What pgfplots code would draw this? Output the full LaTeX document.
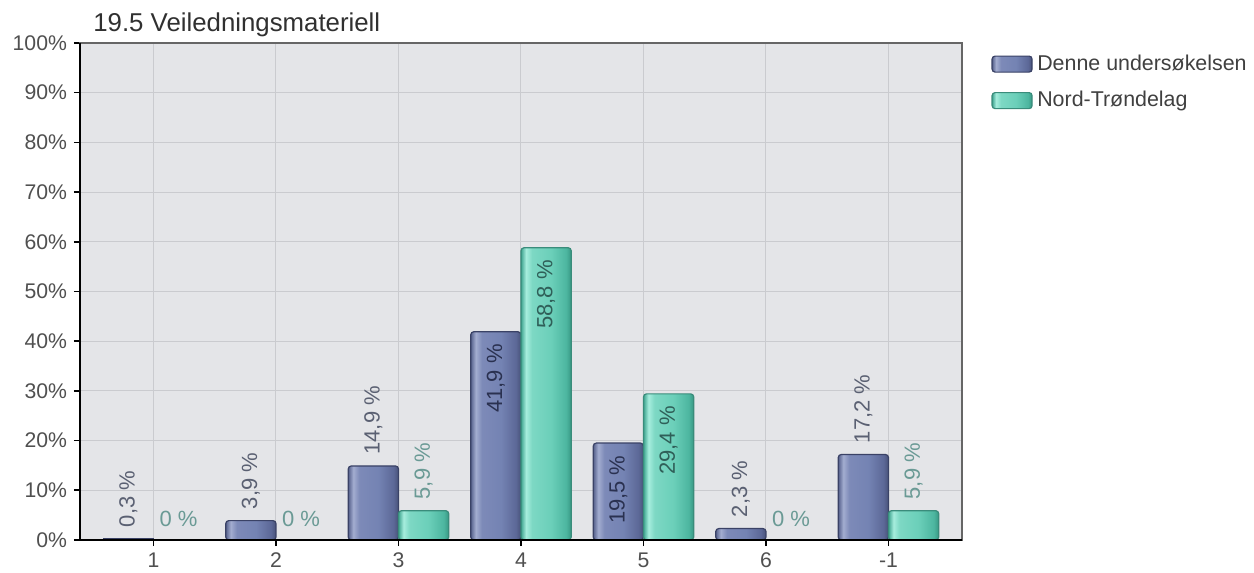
\documentclass[border=0pt]{standalone}
\usepackage{pgfplots}
\pgfplotsset{compat=1.18}
\usepackage{fontspec}
\setmainfont{Liberation Sans}
\definecolor{bgc}{HTML}{E4E5E8}
\definecolor{gridc}{HTML}{CACBCF}
\definecolor{tickc}{HTML}{505050}
\definecolor{titlec}{HTML}{303030}
\definecolor{legc}{HTML}{404040}
\definecolor{dennedraw}{HTML}{3A4266}
\definecolor{norddraw}{HTML}{3A8C7B}
\definecolor{dlabout}{HTML}{5A6072}
\definecolor{dlabin}{HTML}{2A3150}
\definecolor{nlabout}{HTML}{6A9A95}
\definecolor{nlabin}{HTML}{2F5F58}
\definecolor{d1}{HTML}{56618C}
\definecolor{d2}{HTML}{A3ADD0}
\definecolor{d3}{HTML}{7D8AB8}
\definecolor{d4}{HTML}{7483B3}
\definecolor{d5}{HTML}{5C6897}
\definecolor{d6}{HTML}{48527A}
\definecolor{n1}{HTML}{3FA590}
\definecolor{n2}{HTML}{A6EDDD}
\definecolor{n3}{HTML}{7DD8C4}
\definecolor{n4}{HTML}{6BCFB9}
\definecolor{n5}{HTML}{4DB6A0}
\definecolor{n6}{HTML}{389883}
\pgfdeclarehorizontalshading{denneshade}{100bp}{color(0bp)=(d1); color(25bp)=(d1); color(30bp)=(d2); color(36bp)=(d3); color(55bp)=(d4); color(70bp)=(d5); color(75bp)=(d6); color(100bp)=(d6)}
\pgfdeclarehorizontalshading{nordshade}{100bp}{color(0bp)=(n1); color(25bp)=(n1); color(30bp)=(n2); color(36bp)=(n3); color(55bp)=(n4); color(70bp)=(n5); color(75bp)=(n6); color(100bp)=(n6)}
\pgfplotsset{/pgf/number format/assume math mode=true,
  dbar/.style={ybar, bar width=0.41, bar shift=-0.205, shade, shading=denneshade, draw=dennedraw, line width=0.6pt, rounded corners=1.5pt,
    legend image code/.code={\draw[shade, shading=denneshade, draw=dennedraw, line width=0.6pt, rounded corners=1.5pt] (0pt,-4pt) rectangle (20pt,4pt);}},
  nbar/.style={ybar, bar width=0.41, bar shift=0.205, shade, shading=nordshade, draw=norddraw, line width=0.6pt, rounded corners=1.5pt,
    legend image code/.code={\draw[shade, shading=nordshade, draw=norddraw, line width=0.6pt, rounded corners=1.5pt] (0pt,-4pt) rectangle (20pt,4pt);}},
  lab/.style={forget plot, draw=none, mark=none,
    nodes near coords={\pgfmathprintnumber[fixed,precision=1,use comma]{\pgfplotspointmeta}~\%}},
}
\begin{document}
\begin{tikzpicture}
\path[use as bounding box] (-40pt,-16.5pt) rectangle (587pt,270pt);
\begin{axis}[
  at={(0,0)}, anchor=south west,
  scale only axis, width=441pt, height=248.5pt,
  xmin=-0.6, xmax=6.6, ymin=0, ymax=100,
  xtick={0,1,2,3,4,5,6}, xticklabels={1,2,3,4,5,6,-1},
  ytick={0,10,...,100},
  yticklabel={\pgfmathprintnumber{\tick}\%},
  grid=major, major grid style={color=gridc, line width=0.5pt},
  axis background/.style={fill=bgc},
  tick align=outside, major tick length=3pt,
  xtick pos=bottom, ytick pos=left,
  tick style={black, line width=0.8pt},
  axis line style={color=black!60, line width=0.8pt},
  tick label style={font=\fontsize{10.6}{12}\selectfont, text=tickc},
  title={19.5 Veiledningsmateriell},
  title style={at={(0.0147,1)}, anchor=base west, inner sep=0pt, yshift=-0.4pt, font=\fontsize{12.9}{15}\selectfont, text=titlec},
  legend style={at={(1.033,0.985)}, anchor=north west, draw=none, fill=none,
    font=\fontsize{10.7}{12}\selectfont, text=legc, row sep=5pt, inner sep=0pt,
    nodes={inner xsep=2.3pt}},
  legend cell align=left,
  after end axis/.code={\draw[black, line width=1.1pt] (rel axis cs:0,1) -- (rel axis cs:0,0) -- (rel axis cs:1,0);},
]
% Denne undersokelsen bars (one plot per bar so each bar gets its own shading)
\addplot[dbar, rounded corners=0pt] coordinates {(0,0.3)};
\addlegendentry{Denne undersøkelsen}
\addplot[dbar, forget plot] coordinates {(1,3.9)};
\addplot[dbar, forget plot] coordinates {(2,14.9)};
\addplot[dbar, forget plot] coordinates {(3,41.9)};
\addplot[dbar, forget plot] coordinates {(4,19.5)};
\addplot[dbar, forget plot] coordinates {(5,2.3)};
\addplot[dbar, forget plot] coordinates {(6,17.2)};
% Nord-Trondelag bars
\addplot[nbar] coordinates {(2,5.9)};
\addlegendentry{Nord-Trøndelag}
\addplot[nbar, forget plot] coordinates {(3,58.8)};
\addplot[nbar, forget plot] coordinates {(4,29.4)};
\addplot[nbar, forget plot] coordinates {(6,5.9)};
% labels: Denne above
\addplot[lab, x filter/.expression={x-0.205},
  every node near coord/.append style={rotate=90, anchor=west, inner xsep=5.5pt, inner ysep=0pt, text=dlabout, font=\fontsize{11}{12}\selectfont}]
  coordinates {(0,0.3) (1,3.9) (2,14.9) (5,2.3) (6,17.2)};
% labels: Denne inside
\addplot[lab, x filter/.expression={x-0.205},
  every node near coord/.append style={rotate=90, anchor=east, inner xsep=6pt, inner ysep=0pt, text=dlabin, font=\fontsize{11}{12}\selectfont}]
  coordinates {(3,41.9) (4,19.5)};
% labels: Nord above
\addplot[lab, x filter/.expression={x+0.205},
  every node near coord/.append style={rotate=90, anchor=west, inner xsep=5.5pt, inner ysep=0pt, text=nlabout, font=\fontsize{11}{12}\selectfont}]
  coordinates {(2,5.9) (6,5.9)};
% labels: Nord inside
\addplot[lab, x filter/.expression={x+0.205},
  every node near coord/.append style={rotate=90, anchor=east, inner xsep=6pt, inner ysep=0pt, text=nlabin, font=\fontsize{11}{12}\selectfont}]
  coordinates {(3,58.8) (4,29.4)};
% labels: Nord zero values
\addplot[lab, x filter/.expression={x+0.205},
  every node near coord/.append style={anchor=base, yshift=6.5pt, text=nlabout, font=\fontsize{11}{12}\selectfont}]
  coordinates {(0,0) (1,0) (5,0)};
\end{axis}
\end{tikzpicture}
\end{document}
